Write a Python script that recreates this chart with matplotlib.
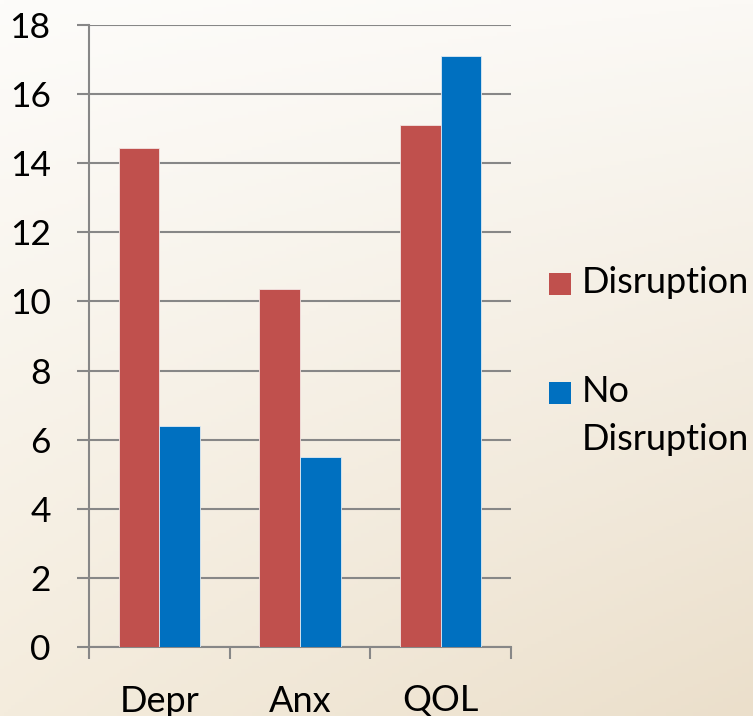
import numpy as np
import matplotlib
matplotlib.use("Agg")
import matplotlib.pyplot as plt
from matplotlib.patches import Rectangle

categories = ["Depr", "Anx", "QOL"]
disruption = [14.45, 10.35, 15.1]
no_disruption = [6.4, 5.5, 17.1]
series_labels = ["Disruption", "No\nDisruption"]
y_ticks = [0, 2, 4, 6, 8, 10, 12, 14, 16, 18]

RED = "#C0504D"
BLUE = "#0070C0"
GRID = "#878787"
FONT = "Lato"

fig = plt.figure(figsize=(7.53, 7.16), dpi=100)

# soft cream gradient behind everything
bg = fig.add_axes([0, 0, 1, 1], zorder=-10)
ny, nx = 200, 200
yy, xx = np.mgrid[0:1:ny * 1j, 0:1:nx * 1j]
tl = np.array([253, 252, 250]) / 255
tr = np.array([251, 249, 245]) / 255
bl = np.array([244, 236, 221]) / 255
br = np.array([235, 223, 203]) / 255
img = ((1 - yy)[..., None] * ((1 - xx)[..., None] * tl + xx[..., None] * tr)
       + yy[..., None] * ((1 - xx)[..., None] * bl + xx[..., None] * br))
bg.imshow(img, aspect="auto", extent=[0, 1, 0, 1], origin="upper")
bg.axis("off")

ax = fig.add_axes([89 / 753, 1 - 647 / 716, (511 - 89) / 753, (647 - 25) / 716])
ax.set_facecolor("none")

x = np.arange(len(categories))
w = 0.288
ax.bar(x - w / 2, disruption, w, color=RED, edgecolor="#f2e4e2", linewidth=0.6, zorder=3)
ax.bar(x + w / 2, no_disruption, w, color=BLUE, edgecolor="#dfeaf3", linewidth=0.6, zorder=3)

ax.set_xlim(-0.5, len(categories) - 0.5)
ax.set_ylim(0, 18)
ax.set_yticks(y_ticks)
ax.set_yticklabels([str(t) for t in y_ticks], fontsize=25.5, fontfamily=FONT)
ax.yaxis.grid(True, color=GRID, linewidth=1.5, zorder=0)
ax.tick_params(axis="y", length=8.6, width=1.5, color=GRID, pad=19)

ax.set_xticks(x)
ax.set_xticklabels(categories, fontsize=26, fontfamily=FONT)
ax.tick_params(axis="x", which="major", length=0, pad=27)
ax.set_xticks(np.arange(-0.5, len(categories), 1.0), minor=True)
ax.tick_params(axis="x", which="minor", length=8.6, width=1.5, color=GRID)

for side in ["top", "right"]:
    ax.spines[side].set_visible(False)
for side in ["left", "bottom"]:
    ax.spines[side].set_color(GRID)
    ax.spines[side].set_linewidth(1.5)
ax.set_axisbelow(True)

# legend drawn as squares with labels to the right of the plot
W, H = 753, 716
legend_rows = [(RED, series_labels[0], 273), (BLUE, series_labels[1], 382)]
for color, label, ytop in legend_rows:
    fig.add_artist(Rectangle((549 / W, 1 - (ytop + 22) / H), 22 / W, 22 / H,
                             transform=fig.transFigure, facecolor=color,
                             edgecolor="none"))
    fig.text(582 / W, 1 - (ytop - 7) / H, label, fontsize=26, fontfamily=FONT,
             va="top", ha="left", linespacing=1.55)

fig.savefig("out.png", dpi=100)
